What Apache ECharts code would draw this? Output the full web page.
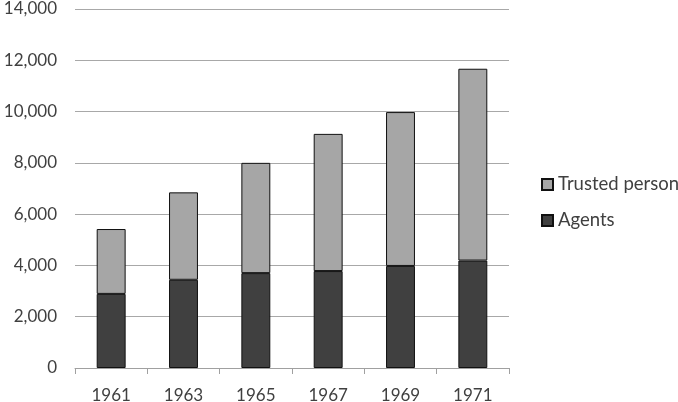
<!DOCTYPE html>
<html>
<head>
<meta charset="utf-8">
<script src="https://cdn.jsdelivr.net/npm/echarts@6/dist/echarts.min.js"></script>
<style>
  html, body { margin: 0; padding: 0; background: #fff; }
  #main { width: 678px; height: 402px; }
</style>
</head>
<body>
<div id="main"></div>
<script>
// data
var years = ['1961', '1963', '1965', '1967', '1969', '1971'];
var agents = [2890, 3440, 3700, 3780, 3980, 4190];
var trusted = [2530, 3410, 4300, 5350, 6000, 7480];

var textColor = '#404040';
var fontFam = 'Lato, "Open Sans", sans-serif';

var myChart = echarts.init(document.getElementById('main'));

var option = {
    animation: false,
    grid: {
        left: 75,
        right: 169,
        top: 9,
        bottom: 34,
        outerBoundsMode: 'none'
    },
    legend: {
        orient: 'vertical',
        left: 541,
        top: 175,
        padding: 0,
        itemWidth: 11,
        itemHeight: 11,
        itemGap: 17,
        itemTextGap: 5,
        icon: 'rect',
        data: ['Trusted person', 'Agents'],
        textStyle: { color: textColor, fontSize: 18.5, fontFamily: fontFam }
    },
    xAxis: {
        type: 'category',
        data: years,
        axisLine: { lineStyle: { color: '#a0a0a0' } },
        axisTick: { show: true, length: 6, lineStyle: { color: '#a0a0a0' } },
        axisLabel: { color: textColor, fontSize: 17, fontFamily: fontFam, margin: 19 }
    },
    yAxis: {
        type: 'value',
        min: 0,
        max: 14000,
        interval: 2000,
        axisLine: { show: false },
        axisTick: { show: false },
        splitLine: { lineStyle: { color: '#a8a8a8' } },
        axisLabel: {
            color: textColor, fontSize: 17, fontFamily: fontFam, margin: 18,
            formatter: function (v) { return v.toLocaleString('en-US'); }
        }
    },
    series: [
        {
            name: 'Agents',
            type: 'bar',
            stack: 'total',
            barWidth: '40%',
            data: agents,
            itemStyle: { color: '#404040', borderColor: '#111', borderWidth: 1 }
        },
        {
            name: 'Trusted person',
            type: 'bar',
            stack: 'total',
            barWidth: '40%',
            data: trusted,
            itemStyle: { color: '#a6a6a6', borderColor: '#111', borderWidth: 1 }
        }
    ]
};

myChart.setOption(option);
</script>
</body>
</html>
